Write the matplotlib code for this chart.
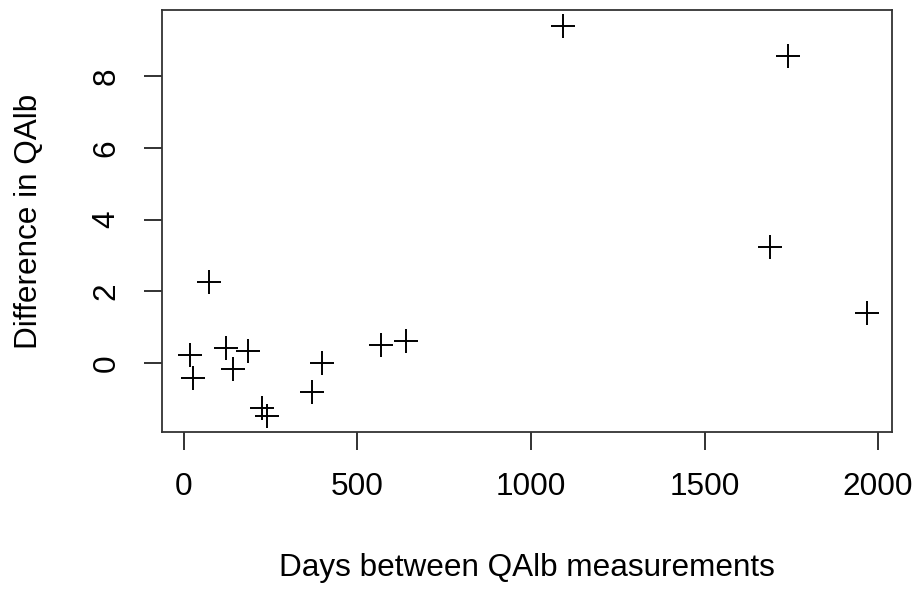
import matplotlib
matplotlib.use("Agg")
import matplotlib.pyplot as plt

# days between measurements and change in QAlb
days = [19, 27, 73, 120, 142, 185, 224, 240, 370, 399, 567, 640, 1093, 1689, 1740, 1967]
diff = [0.22, -0.41, 2.26, 0.43, -0.18, 0.33, -1.26, -1.49, -0.81, -0.01, 0.50, 0.61, 9.42, 3.23, 8.57, 1.41]

xticks = [0, 500, 1000, 1500, 2000]
yticks = [0, 2, 4, 6, 8]

plt.rcParams['font.family'] = ['Liberation Sans', 'DejaVu Sans']

fig = plt.figure(figsize=(9.19, 5.92), dpi=100)
ax = fig.add_axes([162/919, 1 - 432/592, 730/919, 422/592])

ax.plot(days, diff, linestyle='none', marker='+', color='black',
        markersize=17, markeredgewidth=1.4)

ax.set_xlim(-63, 2040)
ax.margins(y=0.04)
ax.set_xticks(xticks)
ax.set_yticks(yticks)
ax.tick_params(direction='out', length=13, width=1.3, labelsize=22.7, pad=16, color='#222222')
for lab in ax.get_yticklabels():
    lab.set_rotation(90)
    lab.set_va('center')

for s in ax.spines.values():
    s.set_linewidth(1.3)
    s.set_color('#333333')

ax.set_xlabel('Days between QAlb measurements', fontsize=22.7)
ax.set_ylabel('Difference in QAlb', fontsize=22.7)
ax.xaxis.set_label_coords(0.5, -0.322)
ax.xaxis.label.set_va('center')
ax.yaxis.set_label_coords(-0.182, 0.5)
ax.yaxis.label.set_va('center')

fig.savefig('out.png', dpi=100)
